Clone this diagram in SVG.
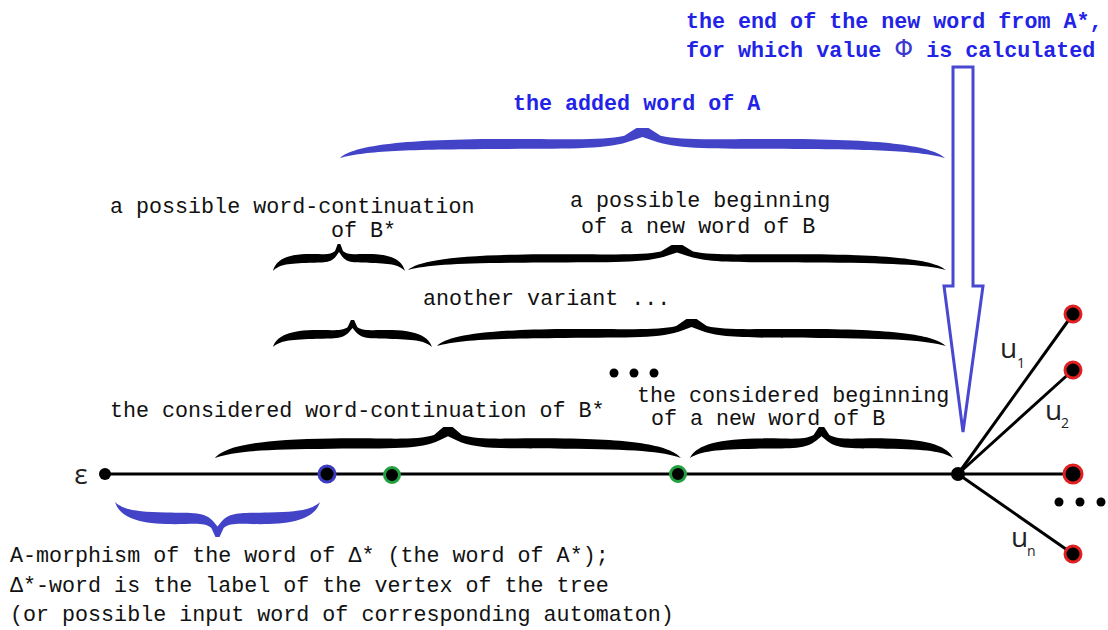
<svg xmlns="http://www.w3.org/2000/svg" xmlns:xlink="http://www.w3.org/1999/xlink" width="1108" height="630" viewBox="0 0 1108 630">
<style>
.mono{font-family:"Liberation Mono","Courier New",monospace;font-size:21.7px;fill:#111;}
.blue{fill:#2323e8;font-weight:bold;}
.lbl{font-family:"Open Sans","Liberation Sans",sans-serif;fill:#222;}
.edge{stroke:#000;stroke-width:3;fill:none;}
.bb{fill:#4343c8;}
.kb{fill:#000;}
</style>
<defs>
<path id="brace" d="M0,100 C20,65 80,40 250,37 C380,35 430,44 470,26 L490,0 L510,0 L530,26 C570,44 620,35 750,37 C920,40 980,65 1000,100 C960,78 900,72 750,70 C620,68 560,74 517,42 L500,30 L483,42 C440,74 380,68 250,70 C100,72 40,78 0,100 Z"/>
</defs>
<rect width="1108" height="630" fill="#fff"/>

<g id="braces">
<use xlink:href="#brace" class="bb" transform="translate(340,128) scale(0.605,0.30)"/>
<use xlink:href="#brace" class="kb" transform="translate(273,244) scale(0.132,0.27)"/>
<use xlink:href="#brace" class="kb" transform="translate(408,245) scale(0.538,0.25)"/>
<use xlink:href="#brace" class="kb" transform="translate(273,320) scale(0.159,0.27)"/>
<use xlink:href="#brace" class="kb" transform="translate(437,319) scale(0.509,0.27)"/>
<use xlink:href="#brace" class="kb" transform="translate(215,427) scale(0.466,0.31)"/>
<use xlink:href="#brace" class="kb" transform="translate(690,427) scale(0.263,0.31)"/>
<use xlink:href="#brace" class="bb" transform="translate(115,537) scale(0.205,-0.35)"/>
</g>

<g id="arrow">
<polygon points="953,67 973,67 973,286 983,286 963,432 944,286 953,286" fill="none" stroke="#4848d0" stroke-width="3" stroke-linejoin="miter"/>
</g>

<g id="connectors">
<line class="edge" x1="105" y1="474" x2="958" y2="474"/>
<line class="edge" x1="958" y1="474" x2="1073" y2="314"/>
<line class="edge" x1="958" y1="474" x2="1073" y2="370"/>
<line class="edge" x1="958" y1="474" x2="1073" y2="474"/>
<line class="edge" x1="958" y1="474" x2="1073" y2="554"/>
</g>

<g id="n-eps"><circle cx="105" cy="474" r="6" fill="#000"/></g>
<g id="n-blue"><circle cx="327" cy="474" r="8" fill="#000" stroke="#3c3cc0" stroke-width="3"/></g>
<g id="n-green1"><circle cx="392" cy="475" r="7.5" fill="#000" stroke="#22a040" stroke-width="3"/></g>
<g id="n-green2"><circle cx="678" cy="474" r="7.5" fill="#000" stroke="#22a040" stroke-width="3"/></g>
<g id="n-center"><circle cx="958" cy="474" r="7" fill="#000"/></g>
<g id="n-r1"><circle cx="1073" cy="314" r="8" fill="#000" stroke="#e02020" stroke-width="3"/></g>
<g id="n-r2"><circle cx="1073" cy="370" r="8" fill="#000" stroke="#e02020" stroke-width="3"/></g>
<g id="n-r3"><circle cx="1073" cy="474" r="9" fill="#000" stroke="#e02020" stroke-width="3"/></g>
<g id="n-r4"><circle cx="1073" cy="554" r="8" fill="#000" stroke="#e02020" stroke-width="3"/></g>

<g id="dots">
<circle cx="614" cy="373" r="4.5" fill="#000"/>
<circle cx="634" cy="373" r="4.5" fill="#000"/>
<circle cx="654" cy="373" r="4.5" fill="#000"/>
<circle cx="1059" cy="502" r="4.5" fill="#000"/>
<circle cx="1080" cy="502" r="4.5" fill="#000"/>
<circle cx="1101" cy="502" r="4.5" fill="#000"/>
</g>

<g id="labels">
<text class="mono blue" x="686" y="28">the end of the new word from A*,</text>
<text class="mono blue" x="686" y="57">for which value <tspan font-family="DejaVu Sans,sans-serif" font-weight="normal" font-size="24" fill="#3a3ad0">Φ</tspan> is calculated</text>
<text class="mono blue" x="513" y="110">the added word of A</text>
<text class="mono" x="110" y="213">a possible word-continuation</text>
<text class="mono" x="331" y="237">of B*</text>
<text class="mono" x="570" y="207">a possible beginning</text>
<text class="mono" x="581" y="233">of a new word of B</text>
<text class="mono" x="423" y="305">another variant ...</text>
<text class="mono" x="110" y="417">the considered word-continuation of B*</text>
<text class="mono" x="637" y="402">the considered beginning</text>
<text class="mono" x="651" y="425">of a new word of B</text>
<text class="mono" x="10" y="562">A-morphism of the word of Δ* (the word of A*);</text>
<text class="mono" x="10" y="592">Δ*-word is the label of the vertex of the tree</text>
<text class="mono" x="10" y="621">(or possible input word of corresponding automaton)</text>
<text class="lbl" x="81" y="484" font-size="28" text-anchor="middle">ε</text>
<text class="lbl" x="1000" y="358" font-size="28">u</text>
<text class="lbl" x="1017" y="368" font-size="14">1</text>
<text class="lbl" x="1045" y="420" font-size="28">u</text>
<text class="lbl" x="1061" y="428" font-size="14">2</text>
<text class="lbl" x="1011" y="547" font-size="28">u</text>
<text class="lbl" x="1027" y="556" font-size="14">n</text>
</g>
</svg>
